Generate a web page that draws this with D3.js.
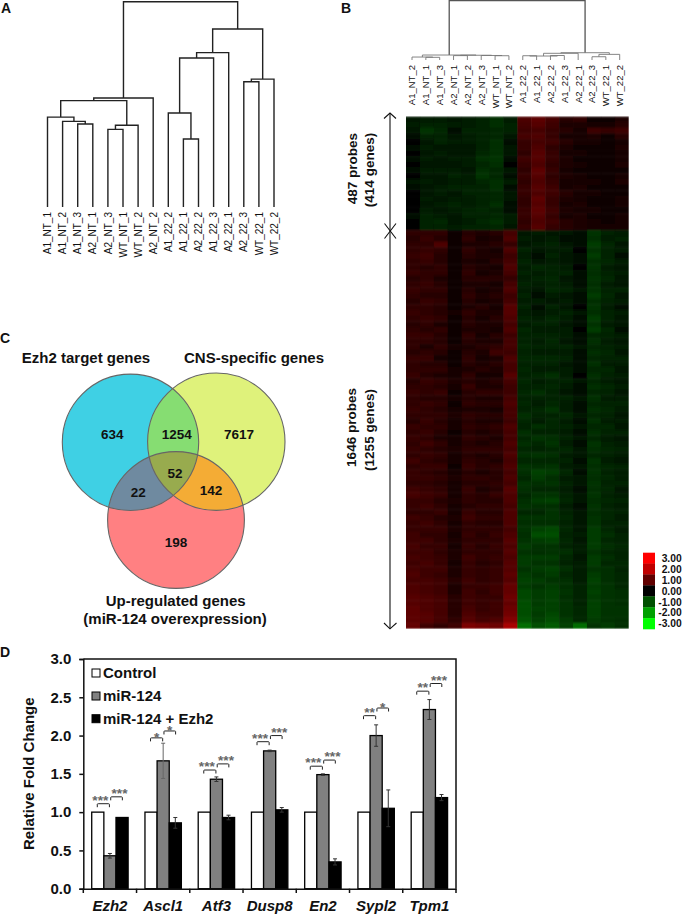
<!DOCTYPE html>
<html><head><meta charset="utf-8">
<script src="https://cdn.jsdelivr.net/npm/d3@7/dist/d3.min.js"></script>
<style>
html,body{margin:0;padding:0;background:#fff}
svg{display:block;font-family:"Liberation Sans",Arial,sans-serif}
text{fill:#111}
</style></head><body>
<svg id="c" width="683" height="916"></svg>
<script>
// ---------- Panel A dendrogram: [mergeHeight, left, right]
const leavesA = ["A1_NT_1","A1_NT_2","A1_NT_3","A2_NT_1","A2_NT_3","WT_NT_1","WT_NT_2","A2_NT_2","A1_22_2","A1_22_1","A2_22_2","A1_22_3","A2_22_1","A2_22_3","WT_22_1","WT_22_2"];
const treeA = [100,
  [53.1,
    [51.8,
      [43.8,"A1_NT_1",[41.7,"A1_NT_2",[40.4,"A1_NT_3","A2_NT_1"]]],
      [39.8,[37.8,"A2_NT_3","WT_NT_1"],"WT_NT_2"]],
    "A2_NT_2"],
  [86.7,
    [75.2,
      [72.6,[45.8,"A1_22_2",[33.1,"A1_22_1","A2_22_2"]],"A1_22_3"],
      "A2_22_1"],
    [62.3,[61,"A2_22_3","WT_22_1"],"WT_22_2"]]];
// ---------- Panel B dendrogram
const leavesB = ["A1_NT_2","A1_NT_1","A1_NT_3","A2_NT_1","A2_NT_2","A2_NT_3","WT_NT_1","WT_NT_2","A1_22_2","A1_22_1","A2_22_2","A1_22_3","A2_22_1","A2_22_3","WT_22_1","WT_22_2"];
const treeB = [100,
  [8.4,
    [5,"A1_NT_2",[4.5,"A1_NT_1","A1_NT_3"]],
    [8,[7.4,"A2_NT_1","A2_NT_2"],[7.6,"A2_NT_3",[7.2,"WT_NT_1","WT_NT_2"]]]],
  [12.3,
    [11.3,[6.7,[7.2,"A1_22_2","A1_22_1"],[7.6,"A2_22_2","A1_22_3"]],"A2_22_1"],
    [9.5,[5.5,"A2_22_3","WT_22_1"],"WT_22_2"]]];
// ---------- Panel B heat map, one row per band of probes, 16 samples (units: 1/12.5 of a legend step)
const heatRows = [
[-3,-4,-4,-3,-4,-5,-7,-4,10,12,9,5,6,2,2,4],
[-4,-5,-5,-4,-4,-5,-7,-5,9,11,8,4,4,3,3,5],
[-3,-8,-6,-2,-5,-5,-6,-5,8,9,7,5,3,8,7,8],
[-2,-5,-5,-3,-4,-5,-6,-3,9,10,7,3,3,4,2,5],
[-1,-3,-5,-4,-4,-5,-7,-2,7,9,8,5,3,3,1,3],
[-2,-4,-3,-3,-3,-5,-7,-3,7,10,6,4,2,2,1,4],
[-1,-3,-4,-3,-3,-6,-7,-3,6,11,7,3,3,1,2,3],
[-2,-4,-3,-4,-4,-7,-8,-2,8,11,7,4,2,2,1,3],
[-1,-3,-3,-3,-4,-6,-7,-1,7,10,6,4,3,2,1,4],
[-2,-4,-4,-4,-3,-7,-6,-3,6,12,7,3,2,1,1,2],
[-1,-3,-3,-5,-4,-8,-6,-2,7,11,6,4,3,2,1,3],
[-3,-4,-3,-4,-4,-6,-7,-4,6,10,7,3,3,3,1,4],
[-2,-3,-4,-5,-5,-5,-7,-2,7,11,8,3,4,2,2,2],
[0,-3,-4,-3,-5,-5,-6,-3,7,10,8,5,3,3,2,2],
[0,-4,-3,-4,-4,-5,-6,-3,6,12,7,4,3,2,1,3],
[-1,-3,-4,-5,-4,-5,-7,-2,6,11,7,3,4,2,1,3],
[-1,-4,-3,-4,-5,-6,-5,-2,7,12,8,4,3,3,2,2],
[-2,-5,-4,-3,-5,-5,-6,-4,7,11,7,3,4,2,1,3],
[-1,-5,-6,-3,-4,-6,-7,-4,6,10,8,5,4,3,2,3],
[-1,-5,-5,-4,-5,-5,-6,-3,7,11,7,5,4,3,3,3],
[6,6,6,1,5,4,5,9,-3,-4,-3,-3,-2,-8,-5,-4],
[5,7,5,2,6,3,4,10,-4,-3,-4,-2,-2,-7,-4,-5],
[6,6,10,1,4,4,5,7,-3,-4,-5,-3,-2,-9,-6,-3],
[6,7,6,2,6,4,3,10,-5,-3,-4,-4,-1,-8,-5,-4],
[7,8,5,1,5,4,4,8,-4,-2,-5,-3,-2,-9,-5,-2],
[6,7,5,2,4,3,5,9,-5,-3,-4,-3,-2,-7,-6,-4],
[6,5,6,1,5,4,3,10,-4,-6,-5,-4,-1,-8,-4,-3],
[7,6,6,2,6,3,4,9,-5,-4,-5,-5,-2,-7,-5,-4],
[5,6,4,2,5,5,5,7,-4,-5,-6,-3,-2,-8,-6,-3],
[6,7,5,1,4,4,3,9,-5,-4,-5,-4,-2,-7,-4,-3],
[7,6,6,2,5,3,4,10,-4,-3,-6,-5,-3,-8,-5,-5],
[6,5,5,2,6,4,5,8,-5,-2,-4,-3,-2,-9,-6,-3],
[5,7,6,1,5,3,4,9,-4,-4,-3,-4,-2,-7,-5,-4],
[6,6,5,2,4,5,3,11,-5,-2,-5,-3,-1,-8,-4,-2],
[7,6,5,3,6,4,4,11,-4,-3,-4,-5,-3,-7,-5,-4],
[6,7,6,1,5,3,5,10,-5,-4,-6,-4,-2,-9,-5,-3],
[5,6,4,2,5,4,4,9,-4,-5,-5,-3,-2,-8,-4,-3],
[6,5,6,2,4,4,3,10,-6,-4,-4,-4,-1,-9,-6,-2],
[7,7,5,1,6,3,5,8,-5,-5,-5,-4,-2,-6,-5,-4],
[6,6,5,2,5,4,4,9,-5,-4,-6,-3,-2,-7,-4,-3],
[6,4,6,3,4,5,6,9,-6,-5,-5,-5,-3,-6,-5,-4],
[5,6,5,2,5,4,8,8,-5,-4,-4,-4,-2,-7,-6,-3],
[7,7,3,1,6,3,4,10,-6,-6,-6,-5,-2,-6,-5,-5],
[6,5,5,2,5,4,5,9,-5,-5,-5,-3,-2,-7,-4,-4],
[6,6,6,3,4,5,4,9,-6,-4,-4,-4,-2,-6,-6,-3],
[7,5,4,3,6,3,3,11,-5,-6,-7,-4,-1,-7,-5,-4],
[5,7,6,4,5,4,5,9,-6,-4,-5,-5,-3,-6,-4,-3],
[6,6,5,3,7,4,4,8,-5,-5,-6,-4,-2,-7,-6,-4],
[7,6,7,2,5,6,6,8,-6,-7,-5,-3,-2,-6,-5,-3],
[6,5,5,3,5,4,4,9,-5,-5,-5,-5,-3,-7,-4,-4],
[6,7,6,2,6,5,5,10,-6,-4,-6,-4,-2,-6,-5,-5],
[7,6,5,3,4,4,3,9,-5,-6,-8,-4,-2,-7,-6,-4],
[6,6,6,4,6,5,5,9,-7,-5,-5,-6,-3,-6,-5,-3],
[5,7,5,3,5,4,4,8,-6,-4,-6,-4,-2,-7,-4,-4],
[7,6,6,3,6,5,6,10,-5,-7,-6,-5,-3,-6,-6,-3],
[6,7,5,2,5,4,5,9,-7,-5,-5,-4,-2,-7,-5,-5],
[7,6,4,3,6,5,4,9,-6,-8,-7,-5,-3,-6,-4,-3],
[6,8,6,3,5,4,5,10,-7,-6,-8,-4,-2,-8,-5,-4],
[7,6,5,4,6,6,6,9,-6,-5,-6,-6,-3,-7,-6,-5],
[6,7,6,3,5,4,5,10,-7,-8,-7,-4,-3,-6,-5,-4],
[8,6,5,3,6,5,4,9,-6,-6,-6,-5,-2,-8,-4,-3],
[6,7,7,2,7,5,6,10,-8,-7,-8,-4,-3,-7,-6,-5],
[7,6,5,3,5,4,5,9,-7,-10,-9,-6,-2,-8,-5,-4],
[7,7,6,4,6,6,5,10,-6,-9,-7,-4,-3,-7,-6,-4],
[6,6,5,3,5,5,6,9,-8,-7,-8,-5,-3,-8,-5,-5],
[8,7,6,3,7,4,5,11,-7,-6,-6,-4,-2,-7,-6,-3],
[9,8,7,3,6,5,7,10,-6,-8,-8,-5,-3,-8,-5,-4],
[7,7,5,4,6,5,5,10,-7,-9,-10,-6,-3,-7,-6,-5],
[7,8,6,3,5,6,6,9,-8,-7,-7,-4,-2,-8,-5,-4],
[6,6,7,3,7,5,5,10,-6,-6,-8,-5,-3,-7,-6,-5],
[8,7,5,4,8,6,6,10,-8,-8,-8,-6,-3,-8,-6,-4],
[7,8,6,3,6,5,5,10,-7,-7,-7,-5,-3,-8,-5,-5],
[7,7,7,4,6,6,6,9,-8,-10,-11,-6,-3,-9,-6,-4],
[8,6,6,3,7,5,7,10,-7,-12,-12,-5,-4,-9,-7,-5],
[8,8,6,4,6,6,6,11,-8,-9,-10,-6,-3,-9,-6,-5],
[9,7,7,3,7,5,7,10,-9,-8,-8,-5,-4,-9,-7,-6],
[8,8,6,4,6,6,6,11,-8,-7,-8,-7,-4,-8,-6,-5],
[9,8,7,4,8,6,7,10,-9,-9,-9,-6,-3,-9,-7,-5],
[8,9,7,3,7,5,6,11,-9,-8,-8,-5,-4,-9,-6,-6],
[9,8,8,4,7,6,7,11,-8,-9,-10,-7,-4,-8,-7,-5],
[10,8,7,4,7,6,7,12,-9,-8,-9,-6,-4,-9,-7,-6],
[9,9,8,5,8,6,7,11,-10,-9,-8,-7,-4,-10,-7,-6],
[10,9,8,4,7,7,8,13,-9,-8,-9,-7,-5,-9,-8,-6],
[10,9,8,4,8,6,8,13,-11,-9,-10,-8,-5,-10,-8,-7],
[11,10,9,5,8,7,7,14,-11,-9,-10,-7,-5,-9,-8,-7],
[11,10,9,5,8,7,8,13,-12,-9,-10,-8,-5,-10,-8,-7],
[12,10,9,5,9,7,8,14,-12,-10,-10,-8,-6,-10,-8,-8],
[12,11,9,5,10,8,8,15,-12,-9,-11,-8,-6,-10,-8,-8],
[12,11,9,6,11,9,10,17,-13,-10,-12,-9,-6,-9,-8,-7],
[13,8,6,8,16,15,14,22,-17,-12,-14,-10,-17,-8,-9,-7]];
const legendTicks = [3,2,1,0,-1,-2,-3];
const legendColors = ["#ff0000","#c00000","#600000","#000000","#005000","#00a000","#00ff00"];
const probeLabels = [["487 probes","(414 genes)"],["1646 probes","(1255 genes)"]];
// ---------- Panel C Venn
const vennSets = ["Ezh2 target genes","CNS-specific genes"];
const vennCounts = ["634","1254","7617","52","22","142","198"];
const vennBottom = ["Up-regulated genes","(miR-124 overexpression)"];
// ---------- Panel D bars
const genes = ["Ezh2","Ascl1","Atf3","Dusp8","En2","Sypl2","Tpm1"];
const seriesNames = ["Control","miR-124","miR-124 + Ezh2"];
const control = [1,1,1,1,1,1,1];
const mir124 = [0.43,1.67,1.43,1.80,1.49,2.00,2.34];
const mir124Ezh2 = [0.93,0.86,0.93,1.03,0.35,1.05,1.19];
const mirErr = [0.03,0.23,0.03,0.01,0.01,0.14,0.13];
const ezhErr = [0,0.07,0.03,0.03,0.04,0.24,0.04];
const sigLeft = ["***","*","***","***","***","**","**"];
const sigRight = ["***","*","***","***","***","*","***"];
const sigLeftAt = [1.11,1.97,1.55,1.92,1.60,2.26,2.58];
const sigRightAt = [1.20,2.06,1.63,2.00,1.68,2.36,2.68];
const yTicks = [0,0.5,1,1.5,2,2.5,3];

const svg = d3.select("#c");
const txt = (g,x,y,s,size,o={}) => g.append("text").attr("x",x).attr("y",y).text(s)
  .attr("font-size",size).attr("font-weight",o.w||"bold").attr("text-anchor",o.a||"middle")
  .attr("font-style",o.i||null).style("fill",o.f||null);
[["A",1,12.9],["B",341,12.9],["C",0,342.7],["D",0,656.7]].forEach(d=>txt(svg,d[1],d[2],d[0],14,{a:"start"}));

// dendrograms
function dendro(tree,leaves,x0,x1,yBottom,yTop,style,labelTop,labelSize){
  const x = d3.scalePoint().domain(leaves).range([x0,x1]);
  const y = d3.scaleLinear().domain([0,100]).range([yBottom,yTop]);
  const g = svg.append("g").attr("fill","none");
  const root = d3.hierarchy(tree,d=>Array.isArray(d)?d.slice(1):null);
  root.eachAfter(n=>{
    if(!n.children){n.px=x(n.data);n.py=yBottom;}
    else{n.px=d3.mean(n.children,c=>c.px);n.py=y(n.data[0]);}
  });
  const merges = root.descendants().filter(n=>n.children);
  g.selectAll("path").data(merges).join("path")
    .attr("d",n=>{const [a,b]=n.children;return `M${a.px},${a.py}V${n.py}H${b.px}V${b.py}`;})
    .attr("stroke",n=>style(n,true)).attr("stroke-width",n=>style(n,false));
  const lg = svg.append("g");
  leaves.forEach(l=>{
    lg.append("text").attr("transform",`translate(${x(l)+labelSize*0.36},${labelTop}) rotate(-90)`)
      .attr("text-anchor","end").attr("font-size",labelSize).text(l);
  });
}
dendro(treeA,leavesA,47.5,274,207,1.7,(n,c)=>c?"#222":1.4,212,10);
dendro(treeB,leavesB,412,619.7,60,0.7,(n,c)=>{
  const big=n.data[0]===100; return c?(big?"#555":"#777"):(big?1.3:0.9);
},65,9.5);

// heat map
const heatColor = d3.scaleLinear().domain(legendTicks.map(d=>d*12.5)).range(legendColors);
const hx = d3.scaleBand().domain(d3.range(16)).range([406,628.7]);
const hy = d3.scaleBand().domain(d3.range(heatRows.length)).range([116.3,628.8]);
const defs = svg.append("defs");
defs.append("filter").attr("id","soft").attr("x","-2%").attr("y","-2%").attr("width","104%").attr("height","104%")
  .append("feGaussianBlur").attr("stdDeviation","0.7 1.3");
defs.append("clipPath").attr("id","hclip").append("rect").attr("x",406).attr("y",116.3).attr("width",222.7).attr("height",512.5);
const hg = svg.append("g").attr("clip-path","url(#hclip)").append("g").attr("filter","url(#soft)");
hg.selectAll("g").data(heatRows).join("g").attr("transform",(d,i)=>`translate(0,${hy(i)})`)
  .selectAll("rect").data(d=>d).join("rect")
  .attr("x",(d,i)=>hx(i)).attr("width",hx.bandwidth()+0.5).attr("height",hy.bandwidth()+0.5)
  .attr("fill",d=>heatColor(d));
// heat legend
const ly = d3.scaleBand().domain(legendTicks).range([552.7,629]);
const lgd = svg.append("g");
lgd.selectAll("rect").data(legendTicks).join("rect")
  .attr("x",643).attr("width",12).attr("y",d=>ly(d)).attr("height",ly.bandwidth()+0.3)
  .attr("fill",(d,i)=>legendColors[i]);
legendTicks.forEach(d=>txt(lgd,681.7,ly(d)+ly.bandwidth()/2+3.8,d.toFixed(2),10.3,{a:"end"}));

// probes arrows
const arrows = svg.append("g").attr("stroke","#111").attr("fill","none").attr("stroke-width",1.1);
arrows.append("path").attr("d","M390,113V628.5");
arrows.append("path").attr("d","M384,118.5L390,113L396,118.5");
arrows.append("path").attr("d","M384.5,223.5L396,238.5M396,223.5L384.5,238.5");
arrows.append("path").attr("d","M384,623L390,628.8L396.5,623");
const rot = (x,y,s)=>svg.append("text").attr("transform",`translate(${x},${y}) rotate(-90)`)
  .attr("text-anchor","middle").attr("font-size",13.5).attr("font-weight","bold").text(s);
rot(356.5,168.7,probeLabels[0][0]); rot(373.5,170,probeLabels[0][1]);
rot(355.7,427.5,probeLabels[1][0]); rot(374,430,probeLabels[1][1]);

// venn
const circles = [{cx:130.5,cy:442.3,r:68.2,c:"#3fd0e4"},{cx:216.3,cy:441.7,r:68.7,c:"#dff27b"},{cx:176,cy:520,r:68.4,c:"#ff8082"}];
const vg = svg.append("g");
circles.forEach((d,i)=>defs.append("clipPath").attr("id","v"+i).append("circle").attr("cx",d.cx).attr("cy",d.cy).attr("r",d.r));
const vc = (d,fill,par)=>par.append("circle").attr("cx",d.cx).attr("cy",d.cy).attr("r",d.r).attr("fill",fill);
circles.forEach(d=>vc(d,d.c,vg));
vc(circles[1],"#86dd72",vg.append("g").attr("clip-path","url(#v0)"));
vc(circles[2],"#6f8aa0",vg.append("g").attr("clip-path","url(#v0)"));
vc(circles[2],"#f4ac35",vg.append("g").attr("clip-path","url(#v1)"));
vc(circles[2],"#98ab4e",vg.append("g").attr("clip-path","url(#v0)").append("g").attr("clip-path","url(#v1)"));
circles.forEach(d=>vc(d,"none",vg).attr("stroke","#666").attr("stroke-width",1.1));
const vpos=[[112.3,434.3],[176.7,434.3],[239,434.3],[175,473],[138.3,492.3],[211,490],[176,541.7]];
vennCounts.forEach((s,i)=>txt(svg,vpos[i][0],vpos[i][1]+4.8,s,13.5));
txt(svg,86,363.3,vennSets[0],15); txt(svg,254,363.3,vennSets[1],15);
txt(svg,175.7,606,vennBottom[0],15); txt(svg,175,624,vennBottom[1],15);

// bars
const X = d3.scaleBand().domain(genes).range([83.3,456]);
const barsW = 36.4;
const S = d3.scaleBand().domain(seriesNames).range([(X.bandwidth()-barsW)/2,(X.bandwidth()+barsW)/2]);
const Y = d3.scaleLinear().domain([0,3]).range([888.7,659]);
const fills = ["#fff","#808080","#000"];
const series = [control,mir124,mir124Ezh2];
const bg = svg.append("g");
series.forEach((vals,k)=>{
  bg.append("g").selectAll("rect").data(vals).join("rect")
    .attr("x",(d,i)=>X(genes[i])+S(seriesNames[k])).attr("width",S.bandwidth())
    .attr("y",d=>Y(d)).attr("height",d=>Y(0)-Y(d))
    .attr("fill",fills[k]).attr("stroke","#000").attr("stroke-width",1.3);
});
const cx = (i,k)=>X(genes[i])+S(seriesNames[k])+S.bandwidth()/2;
[[mirErr,mir124,1],[ezhErr,mir124Ezh2,2]].forEach(([err,vals,k])=>{
  err.forEach((e,i)=>{
    if(!e) return;
    const x=cx(i,k), t=Y(vals[i]+e), b=Y(vals[i]-e);
    bg.append("path").attr("d",`M${x},${t}V${b}M${x-2},${t}H${x+2}M${x-2},${b}H${x+2}`)
      .attr("fill","none").attr("stroke",k===1&&e>0.1&&i==1?"#666":"#333").attr("stroke-width",1);
  });
});
// significance
genes.forEach((g,i)=>{
  const br=(a,b,v,s,off)=>{
    const y=Y(v);
    bg.append("path").attr("d",`M${a},${y+3.5}V${y+0.6}Q${a},${y} ${a+1},${y}H${b-1}Q${b},${y} ${b},${y+0.6}V${y+3.5}`)
      .attr("fill","none").attr("stroke","#222").attr("stroke-width",1);
    txt(bg,(a+b)/2+(s.length===3?off:0),y+(s.length===1?4:1),s,13.7,{f:"#666"});
  };
  br(cx(i,0)-0.5,cx(i,1)-0.5,sigLeftAt[i],sigLeft[i],-3);
  br(cx(i,1)+0.8,cx(i,2)+0.3,sigRightAt[i],sigRight[i],3);
});
// axes
const ax = svg.append("g").attr("transform","translate(83.3,0)")
  .call(d3.axisLeft(Y).tickValues(yTicks).tickFormat(d3.format(".1f")).tickSize(4).tickPadding(8));
ax.select(".domain").attr("stroke","#111").attr("stroke-width",1.5);
ax.selectAll("line").attr("stroke","#111").attr("stroke-width",1.5);
ax.selectAll("text").attr("font-size",15).attr("font-weight","bold").attr("font-family","Liberation Sans").style("fill","#111");
const bx = svg.append("g").attr("transform","translate(0,888.7)")
  .call(d3.axisBottom(X).tickSize(0).tickPadding(12));
bx.select(".domain").attr("stroke","#111").attr("stroke-width",1.5);
bx.selectAll("text").attr("font-size",15).attr("font-weight","bold").attr("font-style","italic").attr("font-family","Liberation Sans").style("fill","#111");
const edges = genes.map(g=>X(g)).concat([456]);
svg.append("g").selectAll("line").data(edges).join("line")
  .attr("x1",d=>d).attr("x2",d=>d).attr("y1",888.7).attr("y2",893)
  .attr("stroke","#111").attr("stroke-width",1.5);
svg.append("path").attr("d","M83.3,659H456V888.7").attr("fill","none").attr("stroke","#111").attr("stroke-width",1.5);
svg.append("text").attr("transform","translate(33.5,773.7) rotate(-90)").attr("text-anchor","middle")
  .attr("font-size",15).attr("font-weight","bold").text("Relative Fold Change");
// legend
const leg = svg.append("g");
const legY=[673,696,718.7];
seriesNames.forEach((s,i)=>{
  leg.append("rect").attr("x",92).attr("y",legY[i]-4).attr("width",8).attr("height",8)
    .attr("fill",fills[i]).attr("stroke","#000").attr("stroke-width",1);
  txt(leg,103,legY[i]+5.3,s,15,{a:"start"});
});
</script>
</body></html>
